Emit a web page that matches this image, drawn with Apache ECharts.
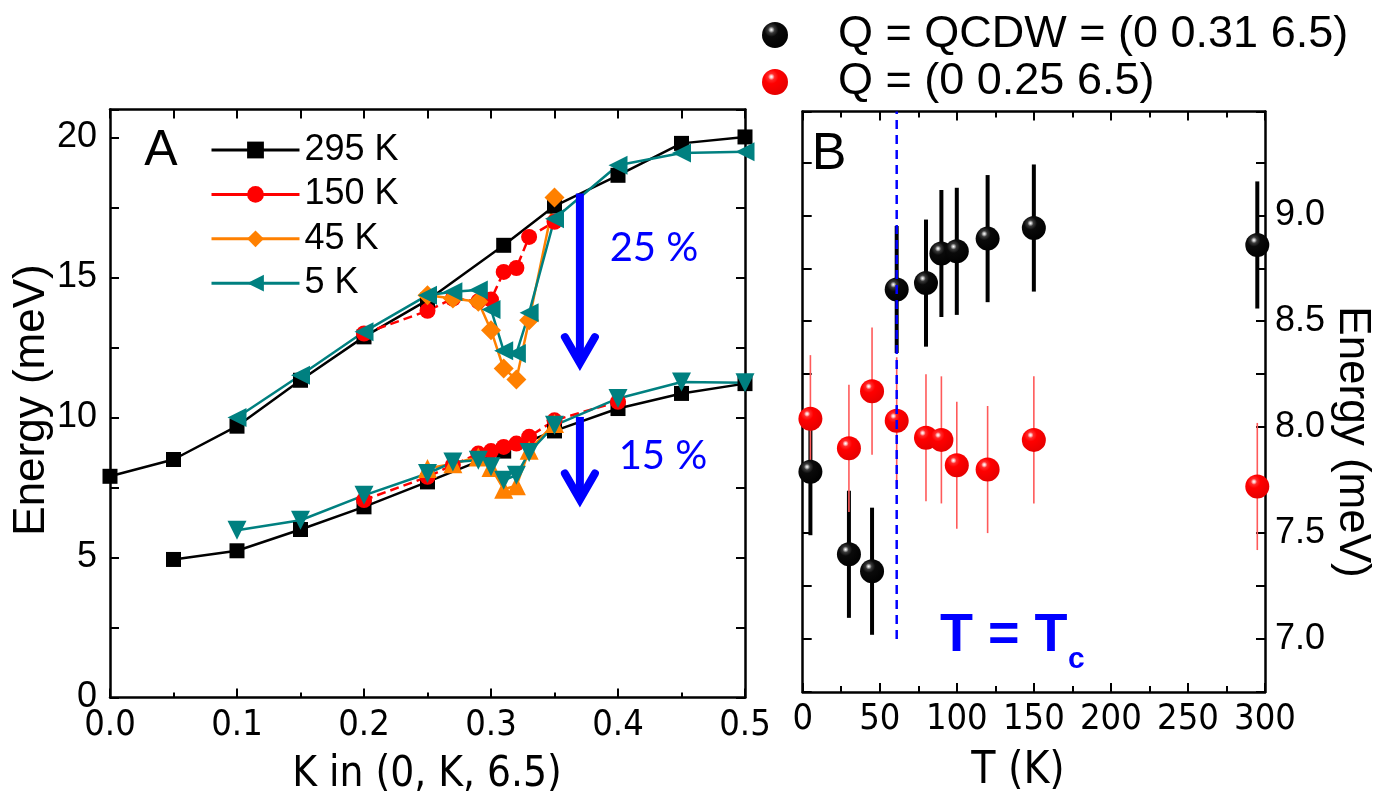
<!DOCTYPE html>
<html>
<head>
<meta charset="utf-8">
<script src="https://cdn.jsdelivr.net/npm/echarts@6/dist/echarts.min.js"></script>
<style>
  html, body { margin: 0; padding: 0; background: #ffffff; }
  #chart { width: 1382px; height: 802px; }
</style>
</head>
<body>
<div id="chart"></div>
<script>
// ---------- Panel A: phonon energy vs K along (0, K, 6.5) ----------
const k295Upper = [0, 0.05, 0.1, 0.15, 0.2, 0.25, 0.31, 0.35, 0.4, 0.45, 0.5];
const e295Upper = [7.9, 8.5, 9.69, 11.33, 12.88, 14.19, 16.15, 17.55, 18.65, 19.79, 20.02];
const k295Lower = [0.05, 0.1, 0.15, 0.2, 0.25, 0.31, 0.35, 0.4, 0.45, 0.5];
const e295Lower = [4.93, 5.24, 6.0, 6.81, 7.7, 8.8, 9.52, 10.32, 10.86, 11.21];

const k150Upper = [0.2, 0.25, 0.27, 0.29, 0.30, 0.31, 0.32, 0.33, 0.35];
const e150Upper = [13.0, 13.81, 14.25, 14.15, 14.21, 15.2, 15.34, 16.45, 16.99];
const k150Lower = [0.2, 0.25, 0.27, 0.29, 0.30, 0.31, 0.32, 0.33, 0.35, 0.4];
const e150Lower = [7.05, 7.88, 8.3, 8.71, 8.8, 8.95, 9.07, 9.31, 9.9, 10.56];

const k45 = [0.25, 0.27, 0.29, 0.30, 0.31, 0.32, 0.33, 0.35];
const e45Upper = [14.37, 14.25, 14.13, 13.12, 11.75, 11.36, 13.47, 17.86];
const e45Lower = [8.18, 8.35, 8.59, 8.21, 7.44, 7.56, 8.83, 9.79];

const k5 = [0.1, 0.15, 0.2, 0.25, 0.27, 0.29, 0.30, 0.31, 0.32, 0.33, 0.35, 0.4, 0.45, 0.5];
const e5Upper = [10.0, 11.51, 13.06, 14.37, 14.49, 14.55, 13.86, 12.38, 12.29, 13.74, 17.1, 19.01, 19.45, 19.49];
const e5Lower = [5.97, 6.33, 7.22, 8.0, 8.41, 8.47, 8.24, 7.76, 7.94, 8.75, 9.72, 10.68, 11.27, 11.24];

// softening arrows: K position, start and end energy
const arrowK = 0.37;
const arrowUpper = [18.0, 11.8];
const arrowLower = [10.02, 6.93];

// ---------- Panel B: energy vs temperature ----------
const tempsQcdw = [5, 30, 45, 61, 80, 90, 100, 120, 150, 295];
const energyQcdw = [7.79, 7.40, 7.32, 8.65, 8.68, 8.82, 8.83, 8.89, 8.94, 8.86];
const errQcdw = [0.3, 0.3, 0.3, 0.3, 0.3, 0.3, 0.3, 0.3, 0.3, 0.3];
const tempsQ025 = [5, 30, 45, 61, 80, 90, 100, 120, 150, 295];
const energyQ025 = [8.04, 7.90, 8.17, 8.03, 7.95, 7.94, 7.82, 7.80, 7.94, 7.72];
const errQ025 = [0.3, 0.3, 0.3, 0.3, 0.3, 0.3, 0.3, 0.3, 0.3, 0.3];
const tcTemp = 61;

const REG = "'Liberation Sans', Arial, sans-serif";
const NARROW = "'Liberation Sans Narrow', 'DejaVu Sans Condensed', sans-serif";
const BLACK = '#000000', RED = '#ff0000', ORANGE = '#ff8000', TEAL = '#008080', BLUE = '#0000ff';

const pairs = (xs, ys) => xs.map((x, i) => [x, ys[i]]);

const chart = echarts.init(document.getElementById('chart'), null, { renderer: 'canvas' });

function frameAxis(extra) {
  return Object.assign({
    type: 'value',
    axisLine: { show: true, onZero: false, lineStyle: { color: BLACK, width: 2.5 } },
    axisTick: { show: true, inside: true, length: 9, lineStyle: { color: BLACK, width: 2 } },
    splitLine: { show: false },
    axisLabel: { show: false }
  }, extra);
}

function lineSeries(name, data, color, symbol, size, rotate, dashed) {
  return {
    name: name, type: 'line', xAxisIndex: 0, yAxisIndex: 0, data: data,
    symbol: symbol, symbolSize: size, symbolRotate: rotate || 0,
    lineStyle: { color: color, width: 2.5, type: dashed ? [9, 5] : 'solid' },
    itemStyle: { color: color, opacity: 1 },
    emphasis: { disabled: true }, animation: false
  };
}

// glossy ball fill
function sphere(c0, c1, c2, c3) {
  return {
    type: 'radial', x: 0.36, y: 0.3, r: 0.75,
    colorStops: [
      { offset: 0, color: '#ffffff' },
      { offset: 0.07, color: c0 },
      { offset: 0.17, color: c1 },
      { offset: 0.36, color: c2 },
      { offset: 1, color: c3 }
    ]
  };
}

function errorBars(temps, vals, errs, color, width, z) {
  return {
    type: 'custom', xAxisIndex: 2, yAxisIndex: 2, z: z, silent: true,
    data: temps.map((t, i) => [t, vals[i] - errs[i], vals[i] + errs[i]]),
    encode: { x: 0, y: [1, 2] },
    renderItem: function (params, api) {
      const p1 = api.coord([api.value(0), api.value(1)]);
      const p2 = api.coord([api.value(0), api.value(2)]);
      return { type: 'line', shape: { x1: p1[0], y1: p1[1], x2: p2[0], y2: p2[1] },
               style: { stroke: color, lineWidth: width } };
    },
    animation: false
  };
}

function arrowSeries(from, to) {
  return {
    type: 'custom', xAxisIndex: 0, yAxisIndex: 0, silent: true, z: 10,
    data: [[arrowK, from, to]],
    encode: { x: 0, y: [1, 2] },
    renderItem: function (params, api) {
      const a = api.coord([api.value(0), api.value(1)]);
      const b = api.coord([api.value(0), api.value(2)]);
      return { type: 'group', children: [
        { type: 'line', shape: { x1: a[0], y1: a[1], x2: b[0], y2: b[1] - 4 },
          style: { stroke: BLUE, lineWidth: 8 } },
        { type: 'polyline', shape: { points: [[b[0] - 15, b[1] - 30], [b[0], b[1] - 4], [b[0] + 15, b[1] - 30]] },
          style: { stroke: BLUE, lineWidth: 8, fill: null, lineJoin: 'miter', lineCap: 'round' } }
      ] };
    },
    animation: false
  };
}

const option = {
  backgroundColor: '#ffffff',
  animation: false,
  grid: [
    { left: 110, top: 109.5, width: 635, height: 588 },
    { left: 802.7, top: 111.5, width: 462.3, height: 580.5 }
  ],
  xAxis: [
    frameAxis({ gridIndex: 0, position: 'bottom', min: 0, max: 0.5, interval: 0.1,
      minorTick: { show: true, splitNumber: 2, length: 5, lineStyle: { color: BLACK, width: 2 } },
      axisLabel: { show: true, color: BLACK, fontFamily: NARROW, fontSize: 36, margin: 10,
        formatter: v => v.toFixed(1) } }),
    frameAxis({ gridIndex: 0, position: 'top', min: 0, max: 0.5, interval: 0.1,
      minorTick: { show: true, splitNumber: 2, length: 9, lineStyle: { color: BLACK, width: 2 } } }),
    frameAxis({ gridIndex: 1, position: 'bottom', min: 0, max: 300, interval: 50,
      minorTick: { show: true, splitNumber: 2, length: 6, lineStyle: { color: BLACK, width: 2 } },
      axisLabel: { show: true, color: BLACK, fontFamily: NARROW, fontSize: 36, margin: 10 } }),
    frameAxis({ gridIndex: 1, position: 'top', min: 0, max: 300, interval: 50,
      minorTick: { show: true, splitNumber: 2, length: 6, lineStyle: { color: BLACK, width: 2 } } })
  ],
  yAxis: [
    frameAxis({ gridIndex: 0, position: 'left', min: 0, max: 21, interval: 2.5,
      axisLabel: { show: true, color: BLACK, fontFamily: REG, fontSize: 36, margin: 13,
        formatter: v => (v % 5 === 0 && v <= 20) ? String(v) : '' } }),
    frameAxis({ gridIndex: 0, position: 'right', min: 0, max: 21, interval: 2.5 }),
    frameAxis({ gridIndex: 1, position: 'right', min: 6.75, max: 9.49, interval: 0.25,
      axisLabel: { show: true, color: BLACK, fontFamily: REG, fontSize: 36, margin: 10,
        formatter: v => Math.abs(v * 2 - Math.round(v * 2)) < 1e-6 ? v.toFixed(1) : '' } }),
    frameAxis({ gridIndex: 1, position: 'left', min: 6.75, max: 9.49, interval: 0.25 })
  ],
  legend: [
    {
      data: ['295 K', '150 K', '45 K', '5 K'],
      orient: 'vertical', left: 210, top: 132, padding: 0,
      itemWidth: 88, itemHeight: 21, itemGap: 8.4,
      lineStyle: { type: 'solid', width: 3 },
      textStyle: { fontFamily: REG, fontSize: 36, lineHeight: 36, color: BLACK },
      selectedMode: false
    },
    {
      data: ['Q = QCDW = (0 0.31 6.5)', 'Q = (0 0.25 6.5)'],
      orient: 'vertical', left: 762, top: 12, padding: 0,
      itemWidth: 26, itemHeight: 26, itemGap: 1,
      itemStyle: { opacity: 1 },
      textStyle: { fontFamily: REG, fontSize: 45, lineHeight: 46, color: BLACK, padding: [0, 0, 0, 45] },
      selectedMode: false
    }
  ],
  series: [
    // panel A, upper branch
    lineSeries('295 K', pairs(k295Upper, e295Upper), BLACK, 'rect', 15),
    lineSeries('150 K', pairs(k150Upper, e150Upper), RED, 'circle', 16, 0, true),
    lineSeries('45 K', pairs(k45, e45Upper), ORANGE, 'diamond', 20),
    lineSeries('5 K', pairs(k5, e5Upper), TEAL, 'triangle', 19, 90),
    // panel A, lower branch
    lineSeries('295 K lower', pairs(k295Lower, e295Lower), BLACK, 'rect', 15),
    lineSeries('150 K lower', pairs(k150Lower, e150Lower), RED, 'circle', 16, 0, true),
    lineSeries('45 K lower', pairs(k45, e45Lower), ORANGE, 'triangle', 19),
    lineSeries('5 K lower', pairs(k5, e5Lower), TEAL, 'triangle', 19, 180),
    arrowSeries(arrowUpper[0], arrowUpper[1]),
    arrowSeries(arrowLower[0], arrowLower[1]),
    // panel B
    errorBars(tempsQcdw, energyQcdw, errQcdw, BLACK, 4, 2),
    errorBars(tempsQ025, energyQ025, errQ025, '#ff5a5a', 1.6, 3),
    {
      name: 'Q = QCDW = (0 0.31 6.5)', type: 'scatter', xAxisIndex: 2, yAxisIndex: 2, z: 4,
      data: pairs(tempsQcdw, energyQcdw), symbol: 'circle', symbolSize: 24,
      itemStyle: { color: sphere('#bdbdbd', '#3a3a3a', '#0a0a0a', '#000000'), opacity: 1 },
      emphasis: { disabled: true }
    },
    {
      name: 'Q = (0 0.25 6.5)', type: 'scatter', xAxisIndex: 2, yAxisIndex: 2, z: 5,
      data: pairs(tempsQ025, energyQ025), symbol: 'circle', symbolSize: 24,
      itemStyle: { color: sphere('#ffc4c4', '#ff2a2a', '#ff0000', '#e40000'), opacity: 1 },
      emphasis: { disabled: true }
    },
    {
      type: 'line', xAxisIndex: 2, yAxisIndex: 2, z: 6, silent: true,
      data: [[tcTemp, 7.0], [tcTemp, 9.49]], symbol: 'none',
      lineStyle: { color: BLUE, width: 2.5, type: [9, 6] }
    }
  ],
  graphic: [
    { type: 'text', x: 32, y: 400, rotation: Math.PI / 2,
      style: { text: 'Energy (meV)', fontFamily: REG, fontSize: 44, fill: BLACK, align: 'center', verticalAlign: 'middle' } },
    { type: 'text', x: 1352, y: 442, rotation: -Math.PI / 2,
      style: { text: 'Energy (meV)', fontFamily: REG, fontSize: 44, fill: BLACK, align: 'center', verticalAlign: 'middle' } },
    { type: 'text', x: 427, y: 775,
      style: { text: 'K in (0, K, 6.5)', fontFamily: NARROW, fontSize: 42, fill: BLACK, align: 'center', verticalAlign: 'middle' } },
    { type: 'text', x: 1018, y: 772,
      style: { text: 'T (K)', fontFamily: NARROW, fontSize: 44, fill: BLACK, align: 'center', verticalAlign: 'middle' } },
    { type: 'text', x: 161, y: 151,
      style: { text: 'A', fontFamily: REG, fontSize: 50, fill: BLACK, align: 'center', verticalAlign: 'middle' } },
    { type: 'text', x: 829, y: 155,
      style: { text: 'B', fontFamily: REG, fontSize: 52, fill: BLACK, align: 'center', verticalAlign: 'middle' } },
    { type: 'text', x: 654, y: 248,
      style: { text: '25 %', fontFamily: "Lato, 'Open Sans', sans-serif", fontSize: 40, fill: BLUE, align: 'center', verticalAlign: 'middle' } },
    { type: 'text', x: 663, y: 456,
      style: { text: '15 %', fontFamily: "Lato, 'Open Sans', sans-serif", fontSize: 40, fill: BLUE, align: 'center', verticalAlign: 'middle' } },
    { type: 'text', x: 940, y: 636,
      style: { text: 'T = T', fontFamily: REG, fontWeight: 'bold', fontSize: 54, fill: BLUE, align: 'left', verticalAlign: 'middle' } },
    { type: 'text', x: 1068, y: 660,
      style: { text: 'c', fontFamily: REG, fontWeight: 'bold', fontSize: 30, fill: BLUE, align: 'left', verticalAlign: 'middle' } }
  ]
};

chart.setOption(option);
</script>
</body>
</html>
